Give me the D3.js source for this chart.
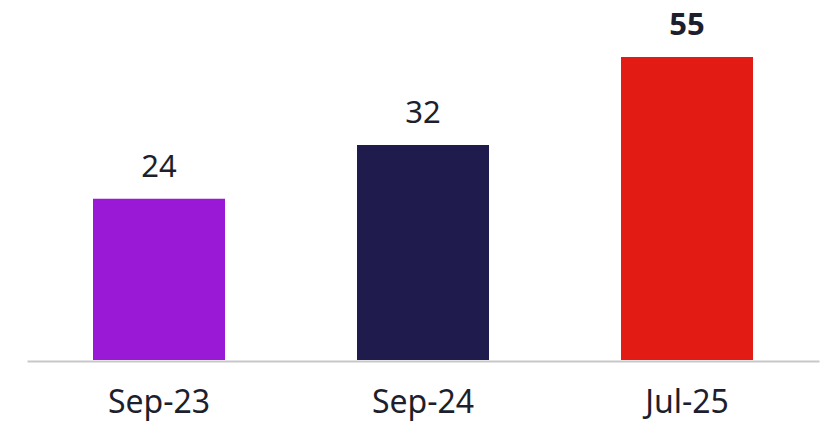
<!DOCTYPE html>
<html>
<head>
<meta charset="utf-8">
<script src="https://cdn.jsdelivr.net/npm/d3@7"></script>
<style>
  body { margin: 0; background: #fff; }
  svg text { font-family: "Noto Sans", sans-serif; fill: #1e1f2e; }
</style>
</head>
<body>
<div id="chart"></div>
<script>
const categories = ["Sep-23", "Sep-24", "Jul-25"];
const values = [24, 32, 55];
const barColours = ["#9a19d6", "#1f1c4d", "#e31b15"];
const boldLabel = [false, false, true];

const width = 823, height = 422;
const baseY = 360;

let svg = d3.select("#chart")
    .append("svg")
        .attr("width", width)
        .attr("height", height);

let x = d3.scaleBand()
    .domain(categories)
    .range([27, 819])
    .paddingInner(0.5)
    .paddingOuter(0.25);

// the tallest bar is shortened in the original, so the scale is piecewise
let y = d3.scaleLinear()
    .domain([0, 32, 55])
    .range([baseY, 145, 57]);

svg.selectAll("rect.bar")
    .data(values)
    .enter()
    .append("rect")
        .attr("class", "bar")
        .attr("x", (d, i) => x(categories[i]))
        .attr("y", d => y(d))
        .attr("width", x.bandwidth())
        .attr("height", d => baseY - y(d))
        .attr("fill", (d, i) => barColours[i]);

svg.selectAll("text.value")
    .data(values)
    .enter()
    .append("text")
        .attr("class", "value")
        .attr("x", (d, i) => x(categories[i]) + x.bandwidth() / 2)
        .attr("y", d => y(d) - 22)
        .attr("text-anchor", "middle")
        .attr("font-size", "31px")
        .attr("font-weight", (d, i) => boldLabel[i] ? "bold" : "normal")
        .text(d => d);

let axis = d3.axisBottom(x).tickSize(0).tickPadding(0);
let g = svg.append("g")
    .attr("transform", `translate(0, ${baseY + 1})`)
    .call(axis);
g.select(".domain").attr("stroke", "#c8c8c8").attr("stroke-width", 2);
g.selectAll(".tick text")
    .attr("dy", null)
    .attr("y", 52)
    .attr("font-size", "32px")
    .style("font-family", "'Noto Sans', sans-serif")
    .attr("fill", "#1e1f2e");
</script>
</body>
</html>
